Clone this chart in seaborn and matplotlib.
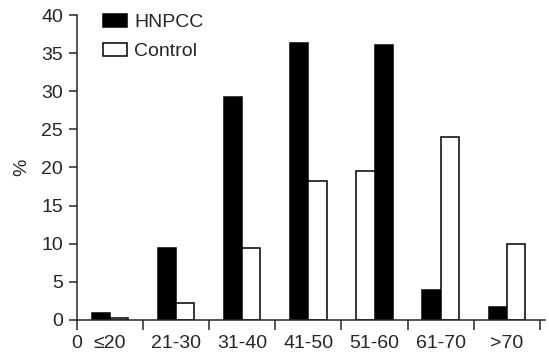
import seaborn as sns
import matplotlib.pyplot as plt
import pandas as pd

# data
age_groups = ["\u226420", "21-30", "31-40", "41-50", "51-60", "61-70", ">70"]
hnpcc = [0.9, 9.4, 29.2, 36.3, 36.1, 3.9, 1.7]
control = [0.3, 2.2, 9.4, 18.2, 19.5, 24.0, 10.0]
y_ticks = [0, 5, 10, 15, 20, 25, 30, 35, 40]

df = pd.DataFrame({
    "age": age_groups * 2,
    "pct": hnpcc + control,
    "group": ["HNPCC"] * len(age_groups) + ["Control"] * len(age_groups),
})

sns.set_style("ticks")
plt.rcParams["font.family"] = ["Liberation Sans", "DejaVu Sans"]
plt.rcParams["font.size"] = 14

fig = plt.figure(figsize=(5.49, 3.53), dpi=100)
ax = fig.add_axes([0.140, 0.0935, 0.853, 0.864])

sns.barplot(
    data=df, x="age", y="pct", hue="group",
    order=age_groups, hue_order=["HNPCC", "Control"],
    palette={"HNPCC": "black", "Control": "white"},
    edgecolor="black", linewidth=1.1, width=0.55,
    legend=False, ax=ax,
)

# in the 51-60 group the control bar sits on the left
i = age_groups.index("51-60")
b_h = ax.containers[0][i]
b_c = ax.containers[1][i]
xh, xc = b_h.get_x(), b_c.get_x()
b_h.set_x(xc)
b_c.set_x(xh)

ax.set_xlim(-0.5, 6.58)
ax.set_ylim(0, 40)
ax.set_yticks(y_ticks)
ax.set_ylabel("%", fontsize=14, labelpad=8)
ax.set_xlabel("")

# boundary ticks with "0" at the origin, group labels centred
bounds = [k - 0.5 for k in range(len(age_groups) + 1)]
ax.set_xticks(bounds)
ax.set_xticklabels(["0"] + [""] * len(age_groups))
ax.set_xticks(range(len(age_groups)), minor=True)
ax.set_xticklabels(age_groups, minor=True)
ax.tick_params(axis="x", which="minor", length=0, pad=11, labelsize=14)
ax.tick_params(axis="x", which="major", length=7, width=1.1, direction="out", pad=4, labelsize=14)
ax.tick_params(axis="y", length=6, width=1.1, direction="out", pad=4, labelsize=14)

for s in ["top", "right"]:
    ax.spines[s].set_visible(False)
ax.spines["left"].set_linewidth(1.1)
ax.spines["bottom"].set_linewidth(1.1)

ax.legend(
    [ax.containers[0][0], ax.containers[1][0]], ["HNPCC", "Control"],
    loc="upper left", bbox_to_anchor=(0.04, 1.03), frameon=False,
    handlelength=1.2, handleheight=0.65, handletextpad=0.4,
    labelspacing=0.6, borderaxespad=0, fontsize=14,
)

fig.savefig("out.png", dpi=100)
